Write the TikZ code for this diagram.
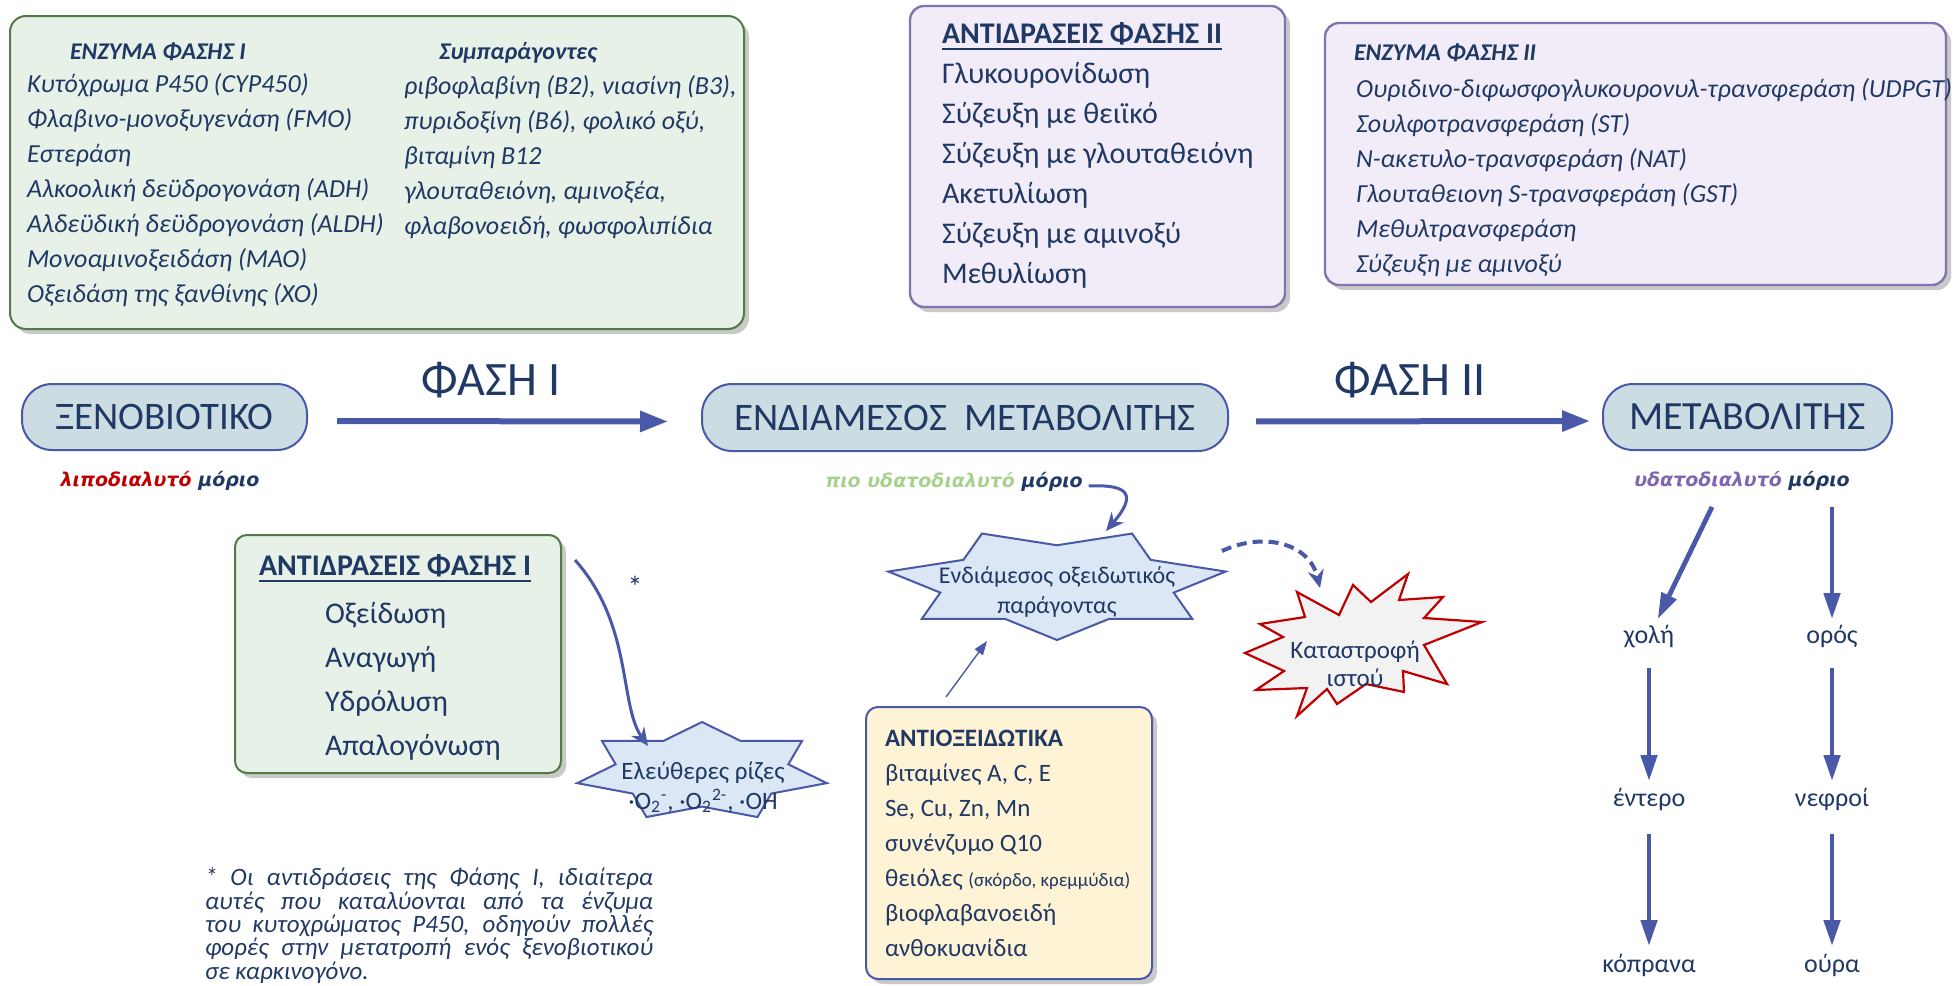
\documentclass[tikz,border=0pt]{standalone}
\usepackage{fontspec}
\setmainfont{Carlito}
\newfontfamily\dejavu{DejaVu Sans}[BoldFont={DejaVu Sans Bold},ItalicFont={DejaVu Sans Oblique},BoldItalicFont={DejaVu Sans Bold Oblique}]
\usetikzlibrary{arrows.meta,shadows,fit,calc}
\definecolor{navy}{HTML}{1F3864}
\definecolor{lineblue}{HTML}{4A58A8}
\definecolor{pillfill}{HTML}{CCDCE3}
\definecolor{greenfill}{HTML}{E7F1E8}
\definecolor{greenline}{HTML}{537A44}
\definecolor{purplefill}{HTML}{F1ECF7}
\definecolor{purpleline}{HTML}{8274AC}
\definecolor{yellowfill}{HTML}{FFF3D6}
\definecolor{starfill}{HTML}{DBE7F5}
\definecolor{boomfill}{HTML}{F2F2F2}
\definecolor{boomred}{HTML}{C00000}
\definecolor{lightgreen}{HTML}{A9D18E}
\definecolor{violettext}{HTML}{7E66B2}
\newcommand\sevenstar[5]{%
  \draw[starline] plot[samples at={0,...,13}, variable=\k]
   ({#1+#3*((mod(\k,2)==0)?1:0.692)*cos(#5+\k*360/14)},
    {#2-#4*((mod(\k,2)==0)?1:0.692)*sin(#5+\k*360/14)}) -- cycle;}
\begin{document}
\begin{tikzpicture}[x=0.5pt,y=-0.5pt,
 every node/.style={inner sep=0pt,outer sep=0pt,text=navy},
 shadowed/.style={drop shadow={shadow xshift=2.5pt,shadow yshift=-2.5pt,opacity=0.3,fill=black!70}},
 greenbox/.style={draw=greenline,line width=1pt,fill=greenfill,rounded corners=8pt,shadowed},
 purplebox/.style={draw=purpleline,line width=1.2pt,fill=purplefill,rounded corners=7pt,shadowed},
 yellowbox/.style={draw=lineblue,line width=1pt,fill=yellowfill,rounded corners=6pt,shadowed},
 pill/.style={draw=lineblue,line width=1pt,fill=pillfill,rounded corners=15pt},
 pilltext/.style={font=\fontsize{19.5}{22}\selectfont},
 ititle/.style={anchor=base west,font=\bfseries\itshape\fontsize{12}{14}\selectfont},
 itext/.style={anchor=base west,font=\itshape\fontsize{13}{15}\selectfont},
 rtext/.style={anchor=base west,font=\fontsize{15}{18}\selectfont},
 rtitle/.style={anchor=base west,font=\bfseries\fontsize{15}{18}\selectfont},
 atext/.style={anchor=base west,font=\fontsize{12.5}{15}\selectfont},
 phase/.style={anchor=base,font=\fontsize{24}{28}\selectfont},
 sollabel/.style={font=\dejavu\bfseries\itshape\fontsize{9.5}{11}\selectfont},
 organ/.style={font=\fontsize{13}{15}\selectfont,text height=9.4pt,text depth=2.9pt},
 startext/.style={align=center,font=\fontsize{12}{15}\selectfont},
 starline/.style={draw=lineblue,line width=1pt,fill=starfill},
 boomline/.style={draw=boomred,line width=1.1pt,fill=boomfill},
 mainarrow/.style={draw=lineblue,line width=3pt,-{Triangle[length=14pt,width=10pt]}},
 flowarrow/.style={draw=lineblue,line width=2.4pt,-{Triangle[length=13pt,width=8pt]}},
 curvearrow/.style={draw=lineblue,line width=1.5pt,-{Stealth[length=9pt,width=8pt]}},
 dasharrow/.style={draw=lineblue,line width=2pt,dash pattern=on 5pt off 3pt,-{Stealth[length=9pt,width=8pt]}},
 thinarrow/.style={draw=lineblue,line width=0.7pt,-{Triangle[length=7pt,width=5pt]}},
 uline/.style={draw=navy,line width=1pt}
]
\useasboundingbox (0,0) rectangle (1959,985);

% ---------- top green box: enzymes of phase I
\node[greenbox, fit={(10,16) (744,329)}] (enz1) {};
\node[ititle] (enz1t) at (70,59) {ΕΝΖΥΜΑ ΦΑΣΗΣ Ι};
\node[ititle] (cofT) at (439,59) {Συμπαράγοντες};
\foreach \t [count=\i from 0] in {{Κυτόχρωμα P450 (CYP450)},{Φλαβινο-μονοξυγενάση (FMO)},{Εστεράση},{Αλκοολική δεϋδρογονάση (ADH)},{Αλδεϋδική δεϋδρογονάση (ALDH)},{Μονοαμινοξειδάση (MAO)},{Οξειδάση της ξανθίνης (XO)}}
  \node[itext] (e1\i) at (27,{92+35*\i}) {\t};
\foreach \t [count=\i from 0] in {{ριβοφλαβίνη (B2), νιασίνη (B3),},{πυριδοξίνη (B6), φολικό οξύ,},{βιταμίνη B12},{γλουταθειόνη, αμινοξέα,},{φλαβονοειδή, φωσφολιπίδια}}
  \node[itext] (cf\i) at (404,{94+35*\i}) {\t};

% ---------- purple box: phase II reactions
\node[purplebox, fit={(910,6) (1285,307)}] (r2) {};
\node[rtitle] (r2t) at (942,43) {ΑΝΤΙΔΡΑΣΕΙΣ ΦΑΣΗΣ ΙΙ};
\draw[uline] ([yshift=-3pt]r2t.base west) -- ([yshift=-3pt]r2t.base east);
\foreach \t [count=\i from 0] in {{Γλυκουρονίδωση},{Σύζευξη με θειϊκό},{Σύζευξη με γλουταθειόνη},{Ακετυλίωση},{Σύζευξη με αμινοξύ},{Μεθυλίωση}}
  \node[rtext] (r2l\i) at (942,{83+40*\i}) {\t};

% ---------- purple box: phase II enzymes
\node[purplebox, fit={(1325,23) (1946,285)}] (enz2) {};
\node[ititle] (enz2t) at (1354,61) {ΕΝΖΥΜΑ ΦΑΣΗΣ ΙΙ};
\foreach \t [count=\i from 0] in {{Ουριδινο-διφωσφογλυκουρονυλ-τρανσφεράση (UDPGT)},{Σουλφοτρανσφεράση (ST)},{N-ακετυλο-τρανσφεράση (NAT)},{Γλουταθειονη S-τρανσφεράση (GST)},{Μεθυλτρανσφεράση},{Σύζευξη με αμινοξύ}}
  \node[itext] (e2\i) at (1356,{97+35*\i}) {\t};

% ---------- main chain
\node[pill, fit={(22,384) (307,450)}] (xeno) {};
\node[pilltext] (xenot) at (xeno.center) {ΞΕΝΟΒΙΟΤΙΚΟ};
\node[pill, fit={(702,384) (1228,451)}] (inter) {};
\node[pilltext] (intert) at (inter.center) {ΕΝΔΙΑΜΕΣΟΣ\hspace{0.45em}ΜΕΤΑΒΟΛΙΤΗΣ};
\node[pill, fit={(1603,384) (1892,450)}] (meta) {};
\node[pilltext, font=\fontsize{20}{23}\selectfont] (metat) at (meta.center) {ΜΕΤΑΒΟΛΙΤΗΣ};
\node[phase] (ph1) at (491,395) {ΦΑΣΗ Ι};
\node[phase] (ph2) at (1410,395) {ΦΑΣΗ ΙΙ};
\draw[mainarrow, shorten <=15pt, shorten >=17pt] ([yshift=-2pt]xeno.east) -- ([yshift=-2pt]inter.west);
\draw[mainarrow, shorten <=14pt, shorten >=6.5pt] ([yshift=-2pt]inter.east) -- ([yshift=-2pt]meta.west);

\node[sollabel] (sol1) at (160,481) {\textcolor{boomred}{λιποδιαλυτό} μόριο};
\node[sollabel] (sol2) at (954,482) {\textcolor{lightgreen}{πιο υδατοδιαλυτό} μόριο};
\node[sollabel] (sol3) at (1742,481) {\textcolor{violettext}{υδατοδιαλυτό} μόριο};

% ---------- phase I reactions box
\node[greenbox, rounded corners=6pt, fit={(235,535) (561,773)}] (r1) {};
\node[rtitle] (r1t) at (259,575) {ΑΝΤΙΔΡΑΣΕΙΣ ΦΑΣΗΣ Ι};
\draw[uline] ([yshift=-3pt]r1t.base west) -- ([yshift=-3pt]r1t.base east);
\foreach \t [count=\i from 0] in {{Οξείδωση},{Αναγωγή},{Υδρόλυση},{Απαλογόνωση}}
  \node[rtext] (r1l\i) at (325,{623+44*\i}) {\t};

% ---------- stars
\sevenstar{702}{772}{128}{50}{90}
\node[startext, font=\fontsize{12.5}{15}\selectfont] (rad) at (703,787) {Ελεύθερες ρίζες\\·O\textsubscript{2}\textsuperscript{-}, ·O\textsubscript{2}\textsuperscript{2-}, ·OH};
\sevenstar{1057}{584}{173}{56}{-90}
\node[startext] (oxid) at (1057,592) {Ενδιάμεσος οξειδωτικός\\παράγοντας};

% ---------- explosion
\draw[boomline] (1408,574) -- (1399,600) -- (1443,597) -- (1424,618) -- (1482,622) -- (1424,645) -- (1447,684) -- (1403,671) -- (1404,692) -- (1366,684) -- (1337,704) -- (1327,689) -- (1297,716) -- (1307,688) -- (1256,690) -- (1284,671) -- (1245,653) -- (1283,637) -- (1260,624) -- (1305,617) -- (1297,592) -- (1339,615) -- (1353,585) -- (1371,602) -- cycle;
\node[startext, font=\fontsize{12.5}{14}\selectfont] (boom) at (1355,664) {Καταστροφή\\ιστού};

% ---------- antioxidants
\node[yellowbox, fit={(866,707) (1152,979)}] (anti) {};
\node[atext, font=\bfseries\fontsize{12.5}{15}\selectfont] (antit) at (885,746) {ΑΝΤΙΟΞΕΙΔΩΤΙΚΑ};
\foreach \t [count=\i from 1] in {{βιταμίνες A, C, E},{Se, Cu, Zn, Mn},{συνένζυμο Q10},{θειόλες {\fontsize{9.5}{11}\selectfont(σκόρδο, κρεμμύδια)}},{βιοφλαβανοειδή},{ανθοκυανίδια}}
  \node[atext] (an\i) at (885,{746+35*\i}) {\t};

% ---------- connectors around the stars
\node[font=\fontsize{15}{16}\selectfont] (ast) at (635,587) {*};
\draw[curvearrow] ($(r1.north east)+(14,25)$) .. controls ($(r1.north east)+(72,90)$) and ($(r1.north east)+(58,170)$) .. ($(rad)+(-55,-41)$);
\draw[curvearrow] (sol2.east) ++(6,4) .. controls +(42,-2) and +(30,-35) .. ($(oxid)+(49,-61)$);
\draw[dasharrow] ($(oxid)+(165,-41)$) .. controls ($(oxid)+(205,-60)$) and ($(oxid)+(252,-50)$) .. ($(boom)+(-35,-76)$);
\draw[thinarrow] ($(anti.north west)+(80,-10)$) -- ($(oxid)+(-70,49)$);

% ---------- excretion
\node[organ] (chol) at (1649,637) {χολή};
\node[organ] (oros) at (1832,637) {ορός};
\node[organ] (ent) at (1649,800) {έντερο};
\node[organ] (nef) at (1832,800) {νεφροί};
\node[organ] (kop) at (1649,966) {κόπρανα};
\node[organ] (oura) at (1832,966) {ούρα};
\coordinate (s1) at (1712,507);
\coordinate (s2) at (1832,507);
\draw[flowarrow, shorten >=10pt] (s1) -- (chol.center);
\draw[flowarrow, shorten >=9pt] (s2) -- (oros.center);
\draw[flowarrow, shorten <=15.5pt, shorten >=9.5pt] (chol.center) -- (ent.center);
\draw[flowarrow, shorten <=15.5pt, shorten >=9.5pt] (oros.center) -- (nef.center);
\draw[flowarrow, shorten <=17pt, shorten >=10pt] (ent.center) -- (kop.center);
\draw[flowarrow, shorten <=17pt, shorten >=10pt] (nef.center) -- (oura.center);

% ---------- footnote
\node[anchor=north west, text width=224pt, align=justify, font=\itshape\fontsize{12.5}{11.7}\selectfont] (note) at (205,868)
 {\hyphenpenalty=10000\exhyphenpenalty=10000 * Οι αντιδράσεις της Φάσης Ι, ιδιαίτερα\linebreak αυτές που καταλύονται από τα ένζυμα\linebreak του κυτοχρώματος P450, οδηγούν πολλές\linebreak φορές στην μετατροπή ενός ξενοβιοτικού\linebreak σε καρκινογόνο.};
\end{tikzpicture}
\end{document}
